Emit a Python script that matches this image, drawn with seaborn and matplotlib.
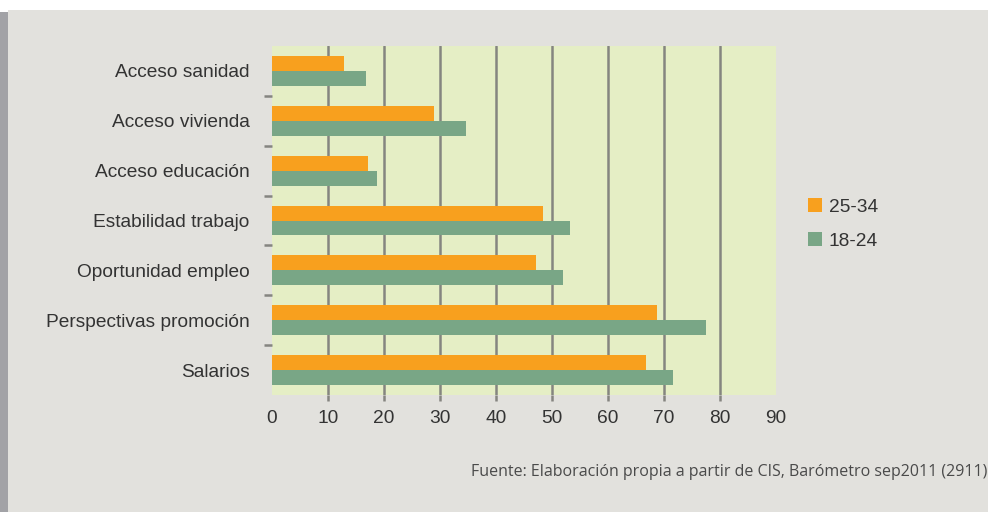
import pandas as pd
import seaborn as sns
import matplotlib.pyplot as plt
from matplotlib.patches import Rectangle

# Values
categorias = ['Acceso sanidad', 'Acceso vivienda', 'Acceso educación',
              'Estabilidad trabajo', 'Oportunidad empleo',
              'Perspectivas promoción', 'Salarios']
edad_25_34 = [12.9, 28.9, 17.1, 48.4, 47.1, 68.8, 66.8]
edad_18_24 = [16.8, 34.6, 18.8, 53.2, 52.0, 77.5, 71.6]
grupos = ['25-34', '18-24']
x_ticks = [0, 10, 20, 30, 40, 50, 60, 70, 80, 90]
fuente = 'Fuente: Elaboración propia a partir de CIS, Barómetro sep2011 (2911)'

df = pd.DataFrame({
    'categoria': categorias * 2,
    'valor': edad_25_34 + edad_18_24,
    'grupo': [grupos[0]] * len(categorias) + [grupos[1]] * len(categorias),
})

sns.set_theme(style='white')
plt.rcParams['font.family'] = ['Liberation Sans', 'DejaVu Sans']

bg = '#e2e1dd'
fig = plt.figure(figsize=(9.88, 5.12), dpi=100, facecolor='white')

# page background with left shadow
fig.patches.append(Rectangle((0, 0), 8 / 988, 500 / 512, transform=fig.transFigure,
                             facecolor='#a2a2a6', edgecolor='none', zorder=-3))
fig.patches.append(Rectangle((8 / 988, 0), 1, 502 / 512, transform=fig.transFigure,
                             facecolor=bg, edgecolor='none', zorder=-2))

ax = fig.add_axes([272 / 988, 1 - 395 / 512, 504 / 988, 349 / 512])
ax.set_facecolor('#e5eec5')

sns.barplot(data=df, y='categoria', x='valor', hue='grupo', hue_order=grupos,
            order=categorias, orient='h', width=0.6, saturation=1,
            palette=['#f8a01e', '#79a686'], linewidth=0, ax=ax, legend=True)

ax.set_xlim(0, 90)
ax.set_ylim(len(categorias) - 0.5, -0.5)
ax.set_xlabel('')
ax.set_ylabel('')
for s in ax.spines.values():
    s.set_visible(False)

# gridlines only at 10..80, plus short tick stubs below the plot
ax.xaxis.remove_overlapping_locs = False
ax.set_xticks(x_ticks)
ax.set_xticks(x_ticks[1:-1], minor=True)
ax.set_yticks([i + 0.5 for i in range(len(categorias) - 1)], minor=True)
ax.tick_params(axis='both', which='major', length=0, labelsize=13.8, labelcolor='#333333')
ax.tick_params(axis='x', which='major', pad=11)
ax.tick_params(axis='y', which='major', pad=16)
ax.tick_params(axis='x', which='minor', bottom=True, length=4, width=1.8,
               color='#858580', direction='out')
ax.tick_params(axis='y', which='minor', left=True, length=6, width=1.8,
               color='#858580', direction='out')
ax.xaxis.grid(True, which='minor', color='#858580', linewidth=1.8)
ax.set_axisbelow(True)

leg = ax.legend(loc='center left', bbox_to_anchor=(528 / 504, 0.49), frameon=False,
                fontsize=13.8, handlelength=0.75, handleheight=0.75,
                handletextpad=0.35, labelspacing=0.85, borderaxespad=0)
for t in leg.get_texts():
    t.set_color('#333333')

fig.text(0.999, 1 - 472 / 512, fuente, ha='right', va='center',
         fontsize=11.5, color='#4a4a4a', family=['Open Sans', 'DejaVu Sans'])

fig.savefig('out.png', dpi=100, facecolor=fig.get_facecolor())
